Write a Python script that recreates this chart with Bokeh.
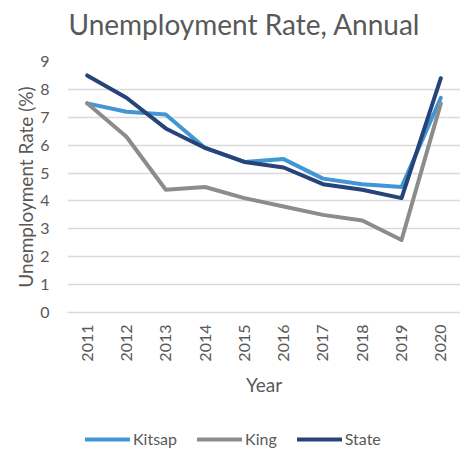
from bokeh.plotting import figure
from bokeh.models import FactorRange, Range1d, Legend, LegendItem, ColumnDataSource, FixedTicker, Label
from bokeh.layouts import column
from bokeh.embed import file_html
from bokeh.resources import INLINE
import math

years = ["2011", "2012", "2013", "2014", "2015", "2016", "2017", "2018", "2019", "2020"]
kitsap = [7.5, 7.2, 7.1, 5.9, 5.4, 5.5, 4.8, 4.6, 4.5, 7.7]
king = [7.5, 6.3, 4.4, 4.5, 4.1, 3.8, 3.5, 3.3, 2.6, 7.5]
state = [8.5, 7.7, 6.6, 5.9, 5.4, 5.2, 4.6, 4.4, 4.1, 8.4]
y_ticks = [0, 1, 2, 3, 4, 5, 6, 7, 8, 9]
series_cols = ["kitsap", "king", "state"]
series_names = ["Kitsap", "King", "State"]
series_colors = ["#4196D4", "#8C8C8C", "#264478"]
title_text = "Unemployment Rate, Annual"

FONT = "Lato"
GREY = "#595959"
W = 460

src = ColumnDataSource(dict(year=years, kitsap=kitsap, king=king, state=state))

# title strip (its frame is aligned with the chart's frame by the column layout)
tt = figure(width=W, height=40, x_range=Range1d(0, 1), y_range=Range1d(0, 1),
            x_axis_type=None, y_axis_type=None, output_backend="svg", toolbar_location=None,
            min_border_left=0, min_border_right=0, min_border_top=0, min_border_bottom=0)
tt.grid.visible = False
tt.outline_line_color = None
tt.add_layout(Label(x=1, y=17, x_units="screen", y_units="screen", text=title_text,
                    text_font=FONT, text_font_size="28px", text_color=GREY,
                    text_baseline="middle", text_align="left"))

p = figure(width=W, height=380, x_range=FactorRange(*years), y_range=Range1d(0, 9),
           output_backend="svg", toolbar_location=None,
           min_border_left=67, min_border_right=0, min_border_top=21, min_border_bottom=108)
p.outline_line_color = None
p.background_fill_color = "white"
p.border_fill_color = "white"

for col, color in zip(series_cols, series_colors):
    p.line("year", col, source=src, line_color=color, line_width=4, line_join="round", line_cap="round")

p.xgrid.grid_line_color = None
p.ygrid.grid_line_color = "#D9D9D9"
p.ygrid.grid_line_width = 1.5
p.yaxis.ticker = FixedTicker(ticks=y_ticks)

p.yaxis.axis_line_color = None
p.yaxis.major_tick_line_color = None
p.yaxis.minor_tick_line_color = None
p.yaxis.major_label_text_font = FONT
p.yaxis.major_label_text_font_size = "16px"
p.yaxis.major_label_text_color = GREY
p.yaxis.major_label_standoff = 12
p.yaxis.axis_label = "Unemployment Rate (%)"
p.yaxis.axis_label_text_font = FONT
p.yaxis.axis_label_text_font_size = "19px"
p.yaxis.axis_label_text_font_style = "normal"
p.yaxis.axis_label_text_color = GREY
p.yaxis.axis_label_standoff = 0

p.xaxis.axis_line_color = "#D9D9D9"
p.xaxis.axis_line_width = 1.5
p.xaxis.major_tick_line_color = None
p.xaxis.minor_tick_line_color = None
p.xaxis.major_label_orientation = math.pi / 2
p.xaxis.major_label_text_font = FONT
p.xaxis.major_label_text_font_size = "16px"
p.xaxis.major_label_text_color = GREY
p.xaxis.major_label_standoff = 6
p.xaxis.axis_label = "Year"
p.xaxis.axis_label_text_font = FONT
p.xaxis.axis_label_text_font_size = "19px"
p.xaxis.axis_label_text_font_style = "normal"
p.xaxis.axis_label_text_color = GREY
p.xaxis.axis_label_standoff = 8

# legend strip below the chart (series drawn out of view so only the legend shows)
lg = figure(width=W, height=34, x_range=FactorRange(*years), y_range=Range1d(100, 101),
            x_axis_type=None, y_axis_type=None,
            output_backend="svg", toolbar_location=None,
            min_border_left=0, min_border_right=0, min_border_top=0, min_border_bottom=0)
lg.grid.visible = False
lg.outline_line_color = None
items = []
for col, name, color in zip(series_cols, series_names, series_colors):
    r = lg.line("year", col, source=src, line_color=color, line_width=4, line_cap="round")
    items.append(LegendItem(label=name, renderers=[r]))
legend = Legend(items=items, orientation="horizontal", location=(18, 6),
                glyph_width=45, glyph_height=16, label_standoff=3, spacing=20,
                label_text_font=FONT, label_text_font_size="16px", label_text_color=GREY,
                border_line_color=None, background_fill_alpha=0, padding=0, margin=0)
lg.add_layout(legend)

layout = column(tt, p, lg, spacing=0)
open("out.html", "w").write(file_html(layout, INLINE))
